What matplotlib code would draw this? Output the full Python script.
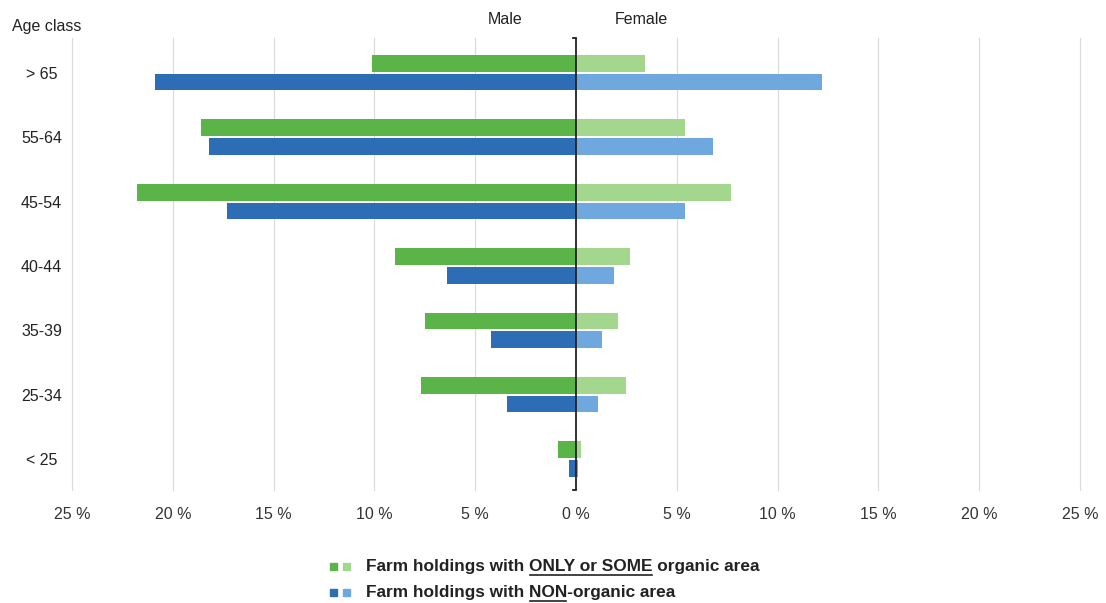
import matplotlib
matplotlib.use("Agg")
import matplotlib.pyplot as plt
import numpy as np

plt.rcParams["font.family"] = ["Liberation Sans", "DejaVu Sans"]

age_classes = ["> 65", "55-64", "45-54", "40-44", "35-39", "25-34", "< 25"]
organic_male = [10.1, 18.6, 21.8, 9.0, 7.5, 7.7, 0.9]
organic_female = [3.4, 5.4, 7.7, 2.7, 2.1, 2.5, 0.25]
nonorganic_male = [20.9, 18.2, 17.3, 6.4, 4.2, 3.4, 0.35]
nonorganic_female = [12.2, 6.8, 5.4, 1.9, 1.3, 1.1, 0.1]
xtick_values = [-25, -20, -15, -10, -5, 0, 5, 10, 15, 20, 25]

GREEN_D = "#5AB447"
GREEN_L = "#A3D78E"
BLUE_D = "#2C6DB6"
BLUE_L = "#6EA8DE"
TXT = "#222222"

W, H = 1106, 603
fig = plt.figure(figsize=(W / 100, H / 100), dpi=100)
ax_left, ax_right, ax_top, ax_bot = 72, 1080, 38, 490
ax = fig.add_axes([ax_left / W, 1 - ax_bot / H, (ax_right - ax_left) / W, (ax_bot - ax_top) / H])

n = len(age_classes)
y = np.arange(n)[::-1].astype(float)
h = 0.26
off = 0.145

ax.barh(y + off, -np.array(organic_male), height=h, color=GREEN_D, zorder=3)
ax.barh(y + off, organic_female, height=h, color=GREEN_L, zorder=3)
ax.barh(y - off, -np.array(nonorganic_male), height=h, color=BLUE_D, zorder=3)
ax.barh(y - off, nonorganic_female, height=h, color=BLUE_L, zorder=3)

ax.set_xlim(-25, 25)
ax.set_ylim(-0.48, 6.54)
for v in xtick_values:
    if v != 0:
        ax.axvline(v, color="#DADADA", lw=0.8, zorder=0, clip_on=False)
ax.axvline(0, color=TXT, lw=1.3, zorder=4)
ax.plot([-0.15, 0], [6.54, 6.54], color=TXT, lw=1.3, zorder=4, clip_on=False)
ax.plot([-0.15, 0], [-0.48, -0.48], color=TXT, lw=1.3, zorder=4, clip_on=False)

for s in ax.spines.values():
    s.set_visible(False)

ax.set_xticks(xtick_values)
ax.set_xticklabels([f"{abs(v)} %" for v in xtick_values], fontsize=11.5, color="#333333")
ax.tick_params(axis="x", length=0, pad=12)
ax.set_yticks(y)
ax.set_yticklabels(age_classes, fontsize=11.5, color=TXT)
for lab in ax.get_yticklabels():
    lab.set_horizontalalignment("center")
ax.tick_params(axis="y", length=0, pad=22)

fig.text(12 / W, 1 - 27 / H, "Age class", fontsize=11.5, color=TXT, va="center", ha="left")
fig.text(505 / W, 1 - 20 / H, "Male", fontsize=11.5, color=TXT, va="center", ha="center")
fig.text(641 / W, 1 - 20 / H, "Female", fontsize=11.5, color=TXT, va="center", ha="center")

rows = [
    (566, GREEN_D, GREEN_L, "Farm holdings with ", "ONLY or SOME", " organic area"),
    (592, BLUE_D, BLUE_L, "Farm holdings with ", "NON", "-organic area"),
]
renderer = fig.canvas.get_renderer()
FS = 12.4
for py, cd, cl, pre, und, post in rows:
    yf = 1 - py / H
    fig.patches.append(plt.Rectangle((330 / W, yf - 3.5 / H), 7 / W, 7 / H, transform=fig.transFigure, color=cd, figure=fig))
    fig.patches.append(plt.Rectangle((343 / W, yf - 3.5 / H), 7 / W, 7 / H, transform=fig.transFigure, color=cl, figure=fig))
    x0 = 366
    fig.text(x0 / W, yf, pre + und + post, fontsize=FS, fontweight="bold", color=TXT, va="center", ha="left")
    t2 = fig.text(x0 / W, yf, pre + und, fontsize=FS, fontweight="bold", alpha=0, va="center", ha="left")
    t3 = fig.text(x0 / W, yf, und, fontsize=FS, fontweight="bold", alpha=0, va="center", ha="left")
    b2 = t2.get_window_extent(renderer)
    b3 = t3.get_window_extent(renderer)
    xe = b2.x1 - 1
    xs = xe - b3.width + 2
    yl = py + 9
    fig.add_artist(plt.Line2D([xs / W, xe / W], [1 - yl / H, 1 - yl / H], transform=fig.transFigure, color=TXT, lw=1.2))

fig.savefig("out.png", dpi=100, facecolor="white")
